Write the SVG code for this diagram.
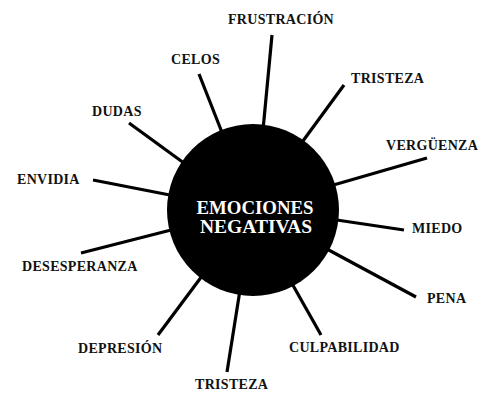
<svg xmlns="http://www.w3.org/2000/svg" width="495" height="405" viewBox="0 0 495 405">
<style>
.lbl{font-family:"Liberation Serif","DejaVu Serif",serif;font-weight:bold;font-size:14px;letter-spacing:0.3px;fill:#111}
.ctr{font-family:"Liberation Serif","DejaVu Serif",serif;font-weight:bold;font-size:18px;fill:#fff;text-anchor:middle}
.ln{stroke:#000;stroke-width:3.2;fill:none}
</style>
<rect width="495" height="405" fill="#fff"/>
<g id="connectors">
<line class="ln" x1="272" y1="35" x2="263" y2="130"/>
<line class="ln" x1="344" y1="85" x2="300" y2="145"/>
<line class="ln" x1="427" y1="158" x2="330" y2="186"/>
<line class="ln" x1="199" y1="74" x2="223" y2="135"/>
<line class="ln" x1="129" y1="123" x2="188" y2="166"/>
<line class="ln" x1="93" y1="180" x2="175" y2="196"/>
<line class="ln" x1="81" y1="253" x2="175" y2="229"/>
<line class="ln" x1="158" y1="335" x2="205" y2="272"/>
<line class="ln" x1="227" y1="372" x2="240" y2="290"/>
<line class="ln" x1="321" y1="335" x2="290" y2="280"/>
<line class="ln" x1="416" y1="297" x2="325" y2="248"/>
<line class="ln" x1="404" y1="230" x2="330" y2="219"/>
</g>
<g id="center">
<circle cx="253" cy="210" r="86" fill="#000"/>
<text class="ctr" x="255" y="214" textLength="117" lengthAdjust="spacingAndGlyphs">EMOCIONES</text>
<text class="ctr" x="256" y="233" textLength="112" lengthAdjust="spacingAndGlyphs">NEGATIVAS</text>
</g>
<g id="n-frustracion"><text class="lbl" x="228" y="24">FRUSTRACIÓN</text></g>
<g id="n-tristeza1"><text class="lbl" x="351" y="83">TRISTEZA</text></g>
<g id="n-verguenza"><text class="lbl" x="386" y="150">VERGÜENZA</text></g>
<g id="n-miedo"><text class="lbl" x="412" y="233">MIEDO</text></g>
<g id="n-pena"><text class="lbl" x="427" y="303">PENA</text></g>
<g id="n-culpabilidad"><text class="lbl" x="289" y="352">CULPABILIDAD</text></g>
<g id="n-tristeza2"><text class="lbl" x="195" y="389">TRISTEZA</text></g>
<g id="n-depresion"><text class="lbl" x="78" y="353">DEPRESIÓN</text></g>
<g id="n-desesperanza"><text class="lbl" x="22" y="271">DESESPERANZA</text></g>
<g id="n-envidia"><text class="lbl" x="17" y="184">ENVIDIA</text></g>
<g id="n-dudas"><text class="lbl" x="92" y="116">DUDAS</text></g>
<g id="n-celos"><text class="lbl" x="171" y="64">CELOS</text></g>
</svg>
